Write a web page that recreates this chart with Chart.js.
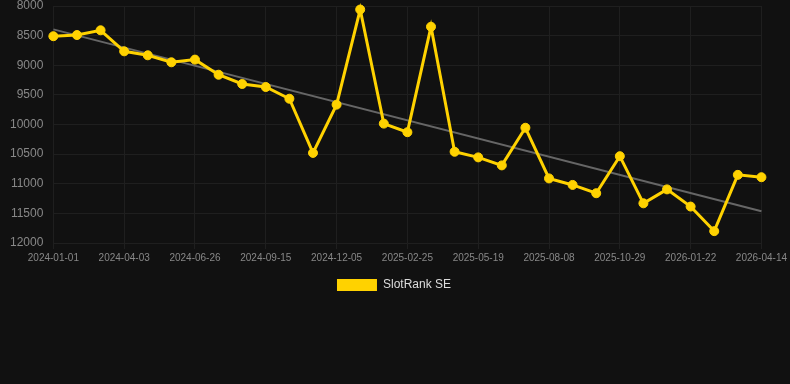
<!DOCTYPE html>
<html>
<head>
<meta charset="utf-8">
<script src="https://cdn.jsdelivr.net/npm/chart.js@4"></script>
<style>
  html, body { margin: 0; padding: 0; background: #111111; }
  #wrap { width: 790px; height: 305px; }
</style>
</head>
<body>
<div id="wrap"><canvas id="chartId"></canvas></div>
<script>
const dates = [
  '2024-01-01', '2024-02-01', '2024-03-03', '2024-04-03', '2024-05-01', '2024-05-29',
  '2024-06-26', '2024-07-23', '2024-08-19', '2024-09-15', '2024-10-12', '2024-11-08',
  '2024-12-05', '2025-01-01', '2025-01-29', '2025-02-25', '2025-03-24', '2025-04-21',
  '2025-05-19', '2025-06-15', '2025-07-12', '2025-08-08', '2025-09-04', '2025-10-02',
  '2025-10-29', '2025-11-25', '2025-12-24', '2026-01-22', '2026-02-18', '2026-03-17',
  '2026-04-14'
];
const rank = [
  8510, 8490, 8410, 8765, 8832, 8950, 8905, 9160, 9316, 9367, 9565, 10480,
  9665, 8060, 9985, 10130, 8350, 10460, 10555, 10690, 10055, 10910, 11020, 11160,
  10535, 11330, 11095, 11385, 11800, 10850, 10890
];
// trend line, only its two ends
const trendStart = 8395;
const trendEnd = 11465;
const yTicks = [8000, 8500, 9000, 9500, 10000, 10500, 11000, 11500, 12000];

const trend = dates.map((d, i) => i === 0 ? trendStart : (i === dates.length - 1 ? trendEnd : null));

var chrt = document.getElementById('chartId').getContext('2d');
var rankChart = new Chart(chrt, {
  type: 'line',
  data: {
    labels: dates,
    datasets: [{
      label: 'SlotRank SE',
      data: rank,
      borderColor: '#ffd200',
      backgroundColor: '#ffd200',
      pointBackgroundColor: '#ffd200',
      pointBorderColor: '#ffd200',
      borderWidth: 3,
      pointRadius: 4.5,
      pointBorderWidth: 1,
      tension: 0,
      clip: false,
      order: 1
    }, {
      label: 'trend',
      data: trend,
      spanGaps: true,
      borderColor: '#666666',
      borderWidth: 2,
      pointRadius: 0,
      order: 2
    }]
  },
  options: {
    responsive: true,
    maintainAspectRatio: false,
    animation: false,
    layout: { autoPadding: false, padding: { top: 0, bottom: 4, right: 2 } },
    plugins: {
      legend: {
        display: true,
        position: 'bottom',
        labels: {
          color: '#dddddd',
          font: { size: 12, family: 'Liberation Sans, Arial, sans-serif' },
          boxWidth: 40,
          boxHeight: 12,
          padding: 12,
          generateLabels: chart => [{
            text: 'SlotRank SE',
            fillStyle: '#ffd200',
            strokeStyle: '#ffd200',
            lineWidth: 0,
            fontColor: '#dddddd',
            datasetIndex: 0
          }]
        }
      },
      tooltip: { enabled: false }
    },
    scales: {
      x: {
        offset: false,
        grid: { color: '#1f1f1f', drawTicks: true, tickLength: 6 },
        border: { color: '#1f1f1f' },
        ticks: {
          color: '#888888',
          font: { size: 10, family: 'Liberation Sans, Arial, sans-serif' },
          autoSkip: false,
          maxRotation: 0,
          callback: function(v, i) { return i % 3 === 0 ? dates[i] : null; }
        }
      },
      y: {
        reverse: true,
        min: 8000,
        max: 12000,
        afterBuildTicks: axis => { axis.ticks = yTicks.map(v => ({ value: v })); },
        // tick padding also pushes the top down, keep only half a label there
        afterFit: axis => { axis.paddingTop = 6; },
        grid: { color: '#1f1f1f', drawTicks: false },
        border: { color: '#1f1f1f' },
        ticks: {
          color: '#888888',
          padding: 10,
          font: { size: 12, family: 'Liberation Sans, Arial, sans-serif' },
          callback: v => String(v)
        }
      }
    }
  }
});
</script>
</body>
</html>
